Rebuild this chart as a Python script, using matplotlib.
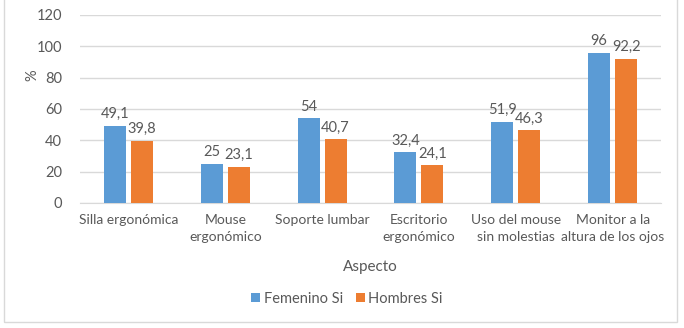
import matplotlib.pyplot as plt
import numpy as np
from matplotlib.patches import Rectangle

categorias = ['Silla ergonómica', 'Mouse\nergonómico', 'Soporte lumbar',
              'Escritorio\nergonómico', 'Uso del mouse\nsin molestias',
              'Monitor a la\naltura de los ojos']
femenino = [49.1, 25, 54, 32.4, 51.9, 96]
hombres = [39.8, 23.1, 40.7, 24.1, 46.3, 92.2]

azul = '#5B9BD5'
naranja = '#ED7D31'
gris = '#595959'

plt.rcParams['font.family'] = ['Lato', 'DejaVu Sans']

fig = plt.figure(figsize=(6.84, 3.28), dpi=100)
ax = fig.add_axes([80/684, 1 - 203/328, 581/684, 188/328])

x = np.arange(len(categorias))
w = 0.227
off = 0.14
b1 = ax.bar(x - off, femenino, w, color=azul, label='Femenino Si', zorder=3)
b2 = ax.bar(x + off, hombres, w, color=naranja, label='Hombres Si', zorder=3)

def fmt(v):
    return f'{v:g}'.replace('.', ',')

for bars, vals in [(b1, femenino), (b2, hombres)]:
    for b, v in zip(bars, vals):
        ax.text(b.get_x() + b.get_width() / 2, v + 3, fmt(v), ha='center',
                va='bottom', fontsize=10.5, color=gris)

ax.set_xlim(-0.5, len(categorias) - 0.5)
ax.set_ylim(0, 120)
ax.set_yticks(range(0, 121, 20))
ax.yaxis.grid(True, color='#D9D9D9', linewidth=1)
ax.set_axisbelow(True)
for s in ['top', 'right', 'left']:
    ax.spines[s].set_visible(False)
ax.spines['bottom'].set_color('#D9D9D9')
ax.tick_params(length=0, colors=gris, labelsize=10.5)
ax.tick_params(axis='y', pad=13)
ax.tick_params(axis='x', pad=8, labelsize=10)
ax.set_xticks(x)
ax.set_xticklabels(categorias, linespacing=1.5)

ax.set_xlabel('Aspecto', color=gris, fontsize=11)
ax.xaxis.set_label_coords(0.5, (203 - 260) / 188)
fig.text(32/684, 1 - 75/328, '%', rotation=90, ha='center', va='center',
         color=gris, fontsize=10.5)

fig.legend(loc='center', bbox_to_anchor=(347/684, 1 - 299/328), ncol=2,
           frameon=False, fontsize=10.5, handlelength=0.6, handleheight=0.6,
           handletextpad=0.25, columnspacing=0.9, labelcolor=gris)

fig.patches.append(Rectangle((4/684, 6/328), 673/684, 1,
                             transform=fig.transFigure, fill=False,
                             edgecolor='#D9D9D9', linewidth=1))

fig.savefig('out.png', dpi=100)
